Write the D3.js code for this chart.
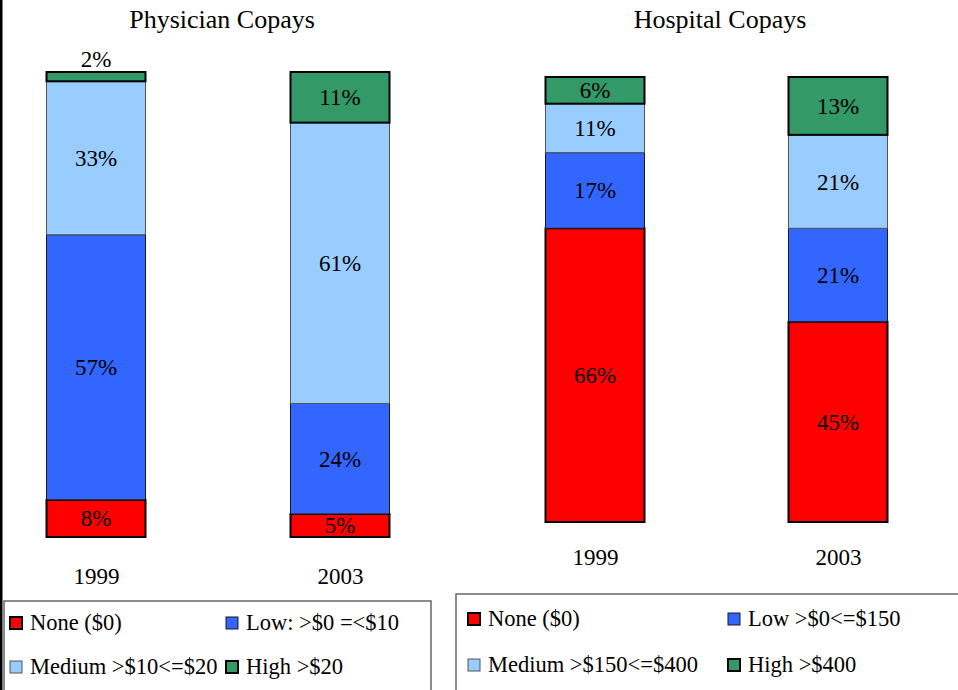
<!DOCTYPE html>
<html>
<head>
<meta charset="utf-8">
<script src="https://cdn.jsdelivr.net/npm/d3@7"></script>
<style>
  body { margin: 0; background: #fff; }
  text { font-family: "Liberation Serif", "Times New Roman", serif; fill: #000; }
</style>
</head>
<body>
<div id="chart"></div>
<script>
// data
var years = ["1999", "2003"];
var levels = ["none", "low", "medium", "high"];

var physicianNone = [8, 5];
var physicianLow = [57, 24];
var physicianMedium = [33, 61];
var physicianHigh = [2, 11];

var hospitalNone = [66, 45];
var hospitalLow = [17, 21];
var hospitalMedium = [11, 21];
var hospitalHigh = [6, 13];

var physicianLegend = ["None ($0)", "Low: >$0 =<$10", "Medium >$10<=$20", "High >$20"];
var hospitalLegend = ["None ($0)", "Low >$0<=$150", "Medium >$150<=$400", "High >$400"];

var serif = "'Liberation Serif', 'Times New Roman', serif";
var fills = { none: "#ff0000", low: "#3366ff", medium: "#99ccff", high: "#339966" };
var strokes = { none: "#000", low: "#1a1a1a", medium: "#555", high: "#000" };
var strokeW = { none: 2, low: 1, medium: 1, high: 2 };

var svg = d3.select("#chart").append("svg").attr("width", 958).attr("height", 690);

// black edge on the far left
svg.append("rect").attr("x", 0).attr("y", 0).attr("width", 2.5).attr("height", 690).attr("fill", "#000");

function rows(none, low, medium, high) {
    return years.map(function(y, i) {
        return { year: y, none: none[i], low: low[i], medium: medium[i], high: high[i] };
    });
}

function drawPanel(opts) {
    var g = svg.append("g");
    var x = d3.scalePoint().domain(years).range(opts.xRange);
    var y = d3.scaleLinear().domain([0, 1]).range(opts.yRange);
    var barW = 99;

    var stack = d3.stack().keys(levels).offset(d3.stackOffsetExpand);
    var series = stack(opts.data);

    g.append("text")
        .attr("x", opts.titleX).attr("y", 28)
        .attr("text-anchor", "middle")
        .style("font-family", serif)
        .style("font-size", "26px")
        .text(opts.title);

    series.forEach(function(s) {
        var key = s.key;
        var grp = g.append("g");
        grp.selectAll("rect").data(s).enter().append("rect")
            .attr("x", function(d) { return x(d.data.year) - barW / 2; })
            .attr("y", function(d) { return y(d[1]); })
            .attr("width", barW)
            .attr("height", function(d) { return y(d[0]) - y(d[1]); })
            .attr("fill", fills[key])
            .attr("stroke", strokes[key])
            .attr("stroke-width", strokeW[key]);
    });

    // labels drawn after the bars so borders do not cover them
    series.forEach(function(s) {
        var key = s.key;
        g.append("g").selectAll("text").data(s).enter().append("text")
            .attr("x", function(d) { return x(d.data.year); })
            .attr("y", function(d) {
                var h = y(d[0]) - y(d[1]);
                if (h < 20) return y(d[1]) - 5;
                return (y(d[0]) + y(d[1])) / 2 + 8;
            })
            .attr("text-anchor", "middle")
            .style("font-family", serif)
            .style("font-size", "23px")
            .text(function(d) { return d.data[key] + "%"; });
    });

    var xAxis = g.append("g")
        .attr("transform", "translate(0," + opts.yearY + ")")
        .call(d3.axisBottom(x).tickSize(0).tickPadding(0));
    xAxis.select(".domain").remove();
    xAxis.selectAll("text")
        .attr("dy", 0)
        .style("font-size", "23px")
        .style("font-family", serif);

    // legend box
    var lg = g.append("g");
    lg.append("rect")
        .attr("x", opts.legend.x).attr("y", opts.legend.y)
        .attr("width", opts.legend.w).attr("height", 120)
        .attr("fill", "#fff").attr("stroke", "#666").attr("stroke-width", 1.5);

    opts.labels.forEach(function(lbl, i) {
        var key = levels[i];
        var col = i % 2, row = Math.floor(i / 2);
        var sx = opts.legend.x + opts.legend.sw0 + col * opts.legend.colW;
        var sy = opts.legend.y + opts.legend.row0 + row * opts.legend.rowH;
        lg.append("rect")
            .attr("x", sx).attr("y", sy - 12)
            .attr("width", 12).attr("height", 12)
            .attr("fill", fills[key])
            .attr("stroke", strokes[key])
            .attr("stroke-width", strokeW[key]);
        lg.append("text")
            .attr("x", sx + 20).attr("y", sy + 1)
            .style("font-family", serif)
            .style("font-size", "22.5px")
            .text(lbl);
    });
}

drawPanel({
    title: "Physician Copays", titleX: 222,
    data: rows(physicianNone, physicianLow, physicianMedium, physicianHigh),
    xRange: [96, 340], yRange: [537, 72], yearY: 584,
    labels: physicianLegend,
    legend: { x: 4, y: 601, w: 427, sw0: 6, colW: 216, row0: 28, rowH: 44 }
});

drawPanel({
    title: "Hospital Copays", titleX: 720,
    data: rows(hospitalNone, hospitalLow, hospitalMedium, hospitalHigh),
    xRange: [595, 838], yRange: [522, 77], yearY: 565,
    labels: hospitalLegend,
    legend: { x: 456, y: 594, w: 520, sw0: 12, colW: 260, row0: 31, rowH: 46 }
});
</script>
</body>
</html>
